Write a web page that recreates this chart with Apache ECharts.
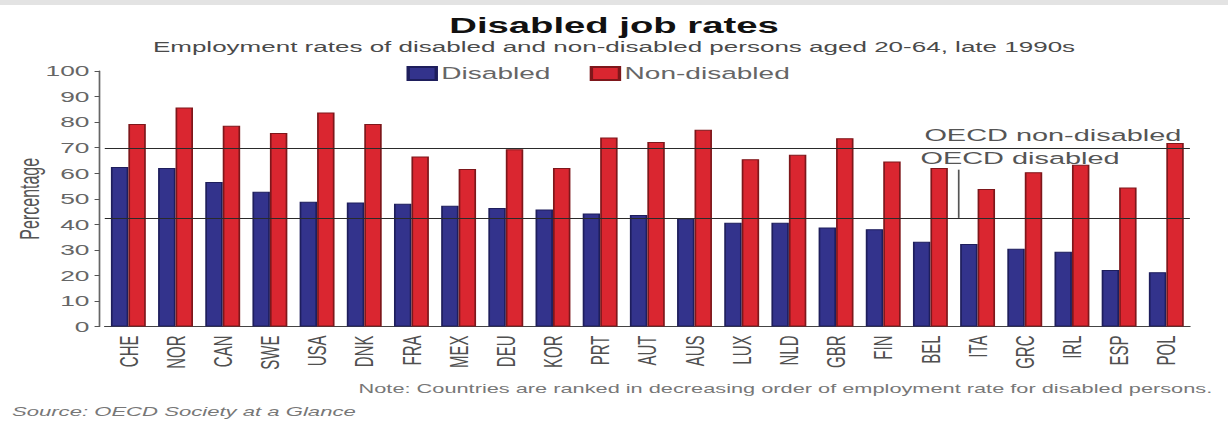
<!DOCTYPE html>
<html>
<head>
<meta charset="utf-8">
<script src="https://cdn.jsdelivr.net/npm/echarts@6/dist/echarts.min.js"></script>
<style>
html,body{margin:0;padding:0;background:#fff;overflow:hidden;width:1228px;height:421px}
#wrap{width:1228px;height:421px;overflow:hidden;position:relative}
#chart{width:722px;height:421px;transform:scaleX(1.70083);transform-origin:0 0}
</style>
</head>
<body>
<div id="wrap"><div id="chart"></div></div>
<script>
// ---- data ----
const categories = ['CHE','NOR','CAN','SWE','USA','DNK','FRA','MEX','DEU','KOR','PRT','AUT','AUS','LUX','NLD','GBR','FIN','BEL','ITA','GRC','IRL','ESP','POL'];
const disabled = [62.4,62.0,56.6,52.7,48.8,48.5,48.0,47.3,46.4,45.8,44.2,43.6,42.2,40.6,40.6,38.7,38.1,33.2,32.3,30.4,29.3,22.1,21.2];
const nonDisabled = [79.3,85.7,78.6,75.7,83.8,79.3,66.5,61.6,69.4,62.0,74.0,72.2,77.0,65.5,67.2,73.7,64.6,62.0,53.8,60.4,63.3,54.4,71.8];
const seriesNames = ['Disabled','Non-disabled'];
const oecdNonDisabled = 69.6;
const oecdDisabled = 42.5;
const yMin = 0, yMax = 100, yInterval = 10;
const titleText = 'Disabled job rates';
const subtitleText = 'Employment rates of disabled and non-disabled persons aged 20-64, late 1990s';
const noteText = 'Note: Countries are ranked in decreasing order of employment rate for disabled persons.';
const sourceText = 'Source: OECD Society at a Glance';
const yAxisName = 'Percentage';
const labelNonDis = 'OECD non-disabled';
const labelDis = 'OECD disabled';

const FONT = "'Liberation Sans', Arial, Helvetica, sans-serif";
const chart = echarts.init(document.getElementById('chart'), null, {renderer: 'svg'});

const option = {
  backgroundColor: '#ffffff',
  animation: false,
  textStyle: {fontFamily: FONT},
  title: [
    {text: titleText, left: 'center', top: 17.5, padding: 0,
     textStyle: {fontFamily: FONT, fontSize: 22.5, lineHeight: 16, fontWeight: 'bold', color: '#111'}},
    {text: subtitleText, left: 'center', top: 40.5, padding: 0,
     textStyle: {fontFamily: FONT, fontSize: 15.3, lineHeight: 12, fontWeight: 'normal', color: '#4a4a4a'}},
    {text: noteText, right: 9, top: 382, padding: 0,
     textStyle: {fontFamily: FONT, fontSize: 12.8, fontWeight: 'normal', color: '#777'}},
    {text: sourceText, left: 7, top: 405, padding: 0,
     textStyle: {fontFamily: FONT, fontSize: 13, fontWeight: 'normal', fontStyle: 'italic', color: '#777'}}
  ],
  legend: {
    left: 239, top: 65, padding: 0,
    itemWidth: 16.5, itemHeight: 13, itemGap: 23,
    icon: 'rect',
    data: seriesNames,
    textStyle: {fontFamily: FONT, fontSize: 16.5, color: '#666', padding: [0,0,0,-2]}
  },
  grid: {left: 61.6, right: 22.4, top: 71, bottom: 94.5, containLabel: false, outerBoundsMode: 'none'},
  xAxis: {
    type: 'category',
    data: categories,
    boundaryGap: true,
    axisLine: {show: true, lineStyle: {color: '#444', width: 1}},
    axisTick: {show: false},
    axisLabel: {rotate: 90, margin: 9, fontSize: 15, color: '#505050', fontFamily: FONT, interval: 0},
    splitLine: {show: false}
  },
  yAxis: {
    type: 'value',
    min: yMin, max: yMax, interval: yInterval,
    offset: 3,
    name: yAxisName,
    nameLocation: 'middle',
    nameGap: 33,
    nameMoveOverlap: false,
    nameRotate: 90,
    nameTextStyle: {fontFamily: FONT, fontSize: 16, color: '#555'},
    axisLine: {show: true, lineStyle: {color: '#666', width: 1}},
    axisTick: {show: true, length: 3, lineStyle: {color: '#555'}},
    axisLabel: {margin: 6, fontSize: 15.5, color: '#666', fontFamily: FONT},
    splitLine: {show: false}
  },
  series: [
    {
      name: seriesNames[0], type: 'bar', data: disabled,
      barWidth: '37%', barGap: '0%',
      itemStyle: {color: '#33338c', borderColor: '#1e1e5c', borderWidth: 1}
    },
    {
      name: seriesNames[1], type: 'bar', data: nonDisabled,
      barWidth: '37%', barGap: '0%',
      itemStyle: {color: '#da2630', borderColor: '#7e171b', borderWidth: 1},
      markLine: {
        silent: true, symbol: 'none', z: 10,
        lineStyle: {color: '#2a2a2a', width: 1, type: 'solid'},
        data: [
          {yAxis: oecdNonDisabled,
           label: {show: true, position: 'insideEndTop', formatter: labelNonDis, distance: [5, 5],
                   fontFamily: FONT, fontSize: 17, color: '#555'}},
          {yAxis: oecdDisabled, label: {show: false}}
        ]
      }
    }
  ]
};
chart.setOption(option);

// annotation for the OECD disabled line, positioned from the axes
const yUp = chart.convertToPixel({yAxisIndex: 0}, oecdNonDisabled);
const yLow = chart.convertToPixel({yAxisIndex: 0}, oecdDisabled);
const xA = chart.convertToPixel({xAxisIndex: 0}, 'BEL');
const xB = chart.convertToPixel({xAxisIndex: 0}, 'ITA');
const leaderX = xA + 0.6 * (xB - xA);
chart.setOption({
  graphic: [
    {type: 'rect', left: 0, top: 0, silent: true, z: 100,
     shape: {width: 722, height: 5}, style: {fill: '#e3e3e3'}},
    {type: 'text', x: leaderX - 22.5, y: yUp + 18.5, silent: true, z: 100,
     style: {text: labelDis, font: '17px ' + FONT, fill: '#555', textVerticalAlign: 'bottom', verticalAlign: 'bottom'}},
    {type: 'line', silent: true, z: 100,
     shape: {x1: leaderX, y1: yUp + 21, x2: leaderX, y2: yLow},
     style: {stroke: '#555', lineWidth: 1}}
  ]
});
</script>
</body>
</html>
